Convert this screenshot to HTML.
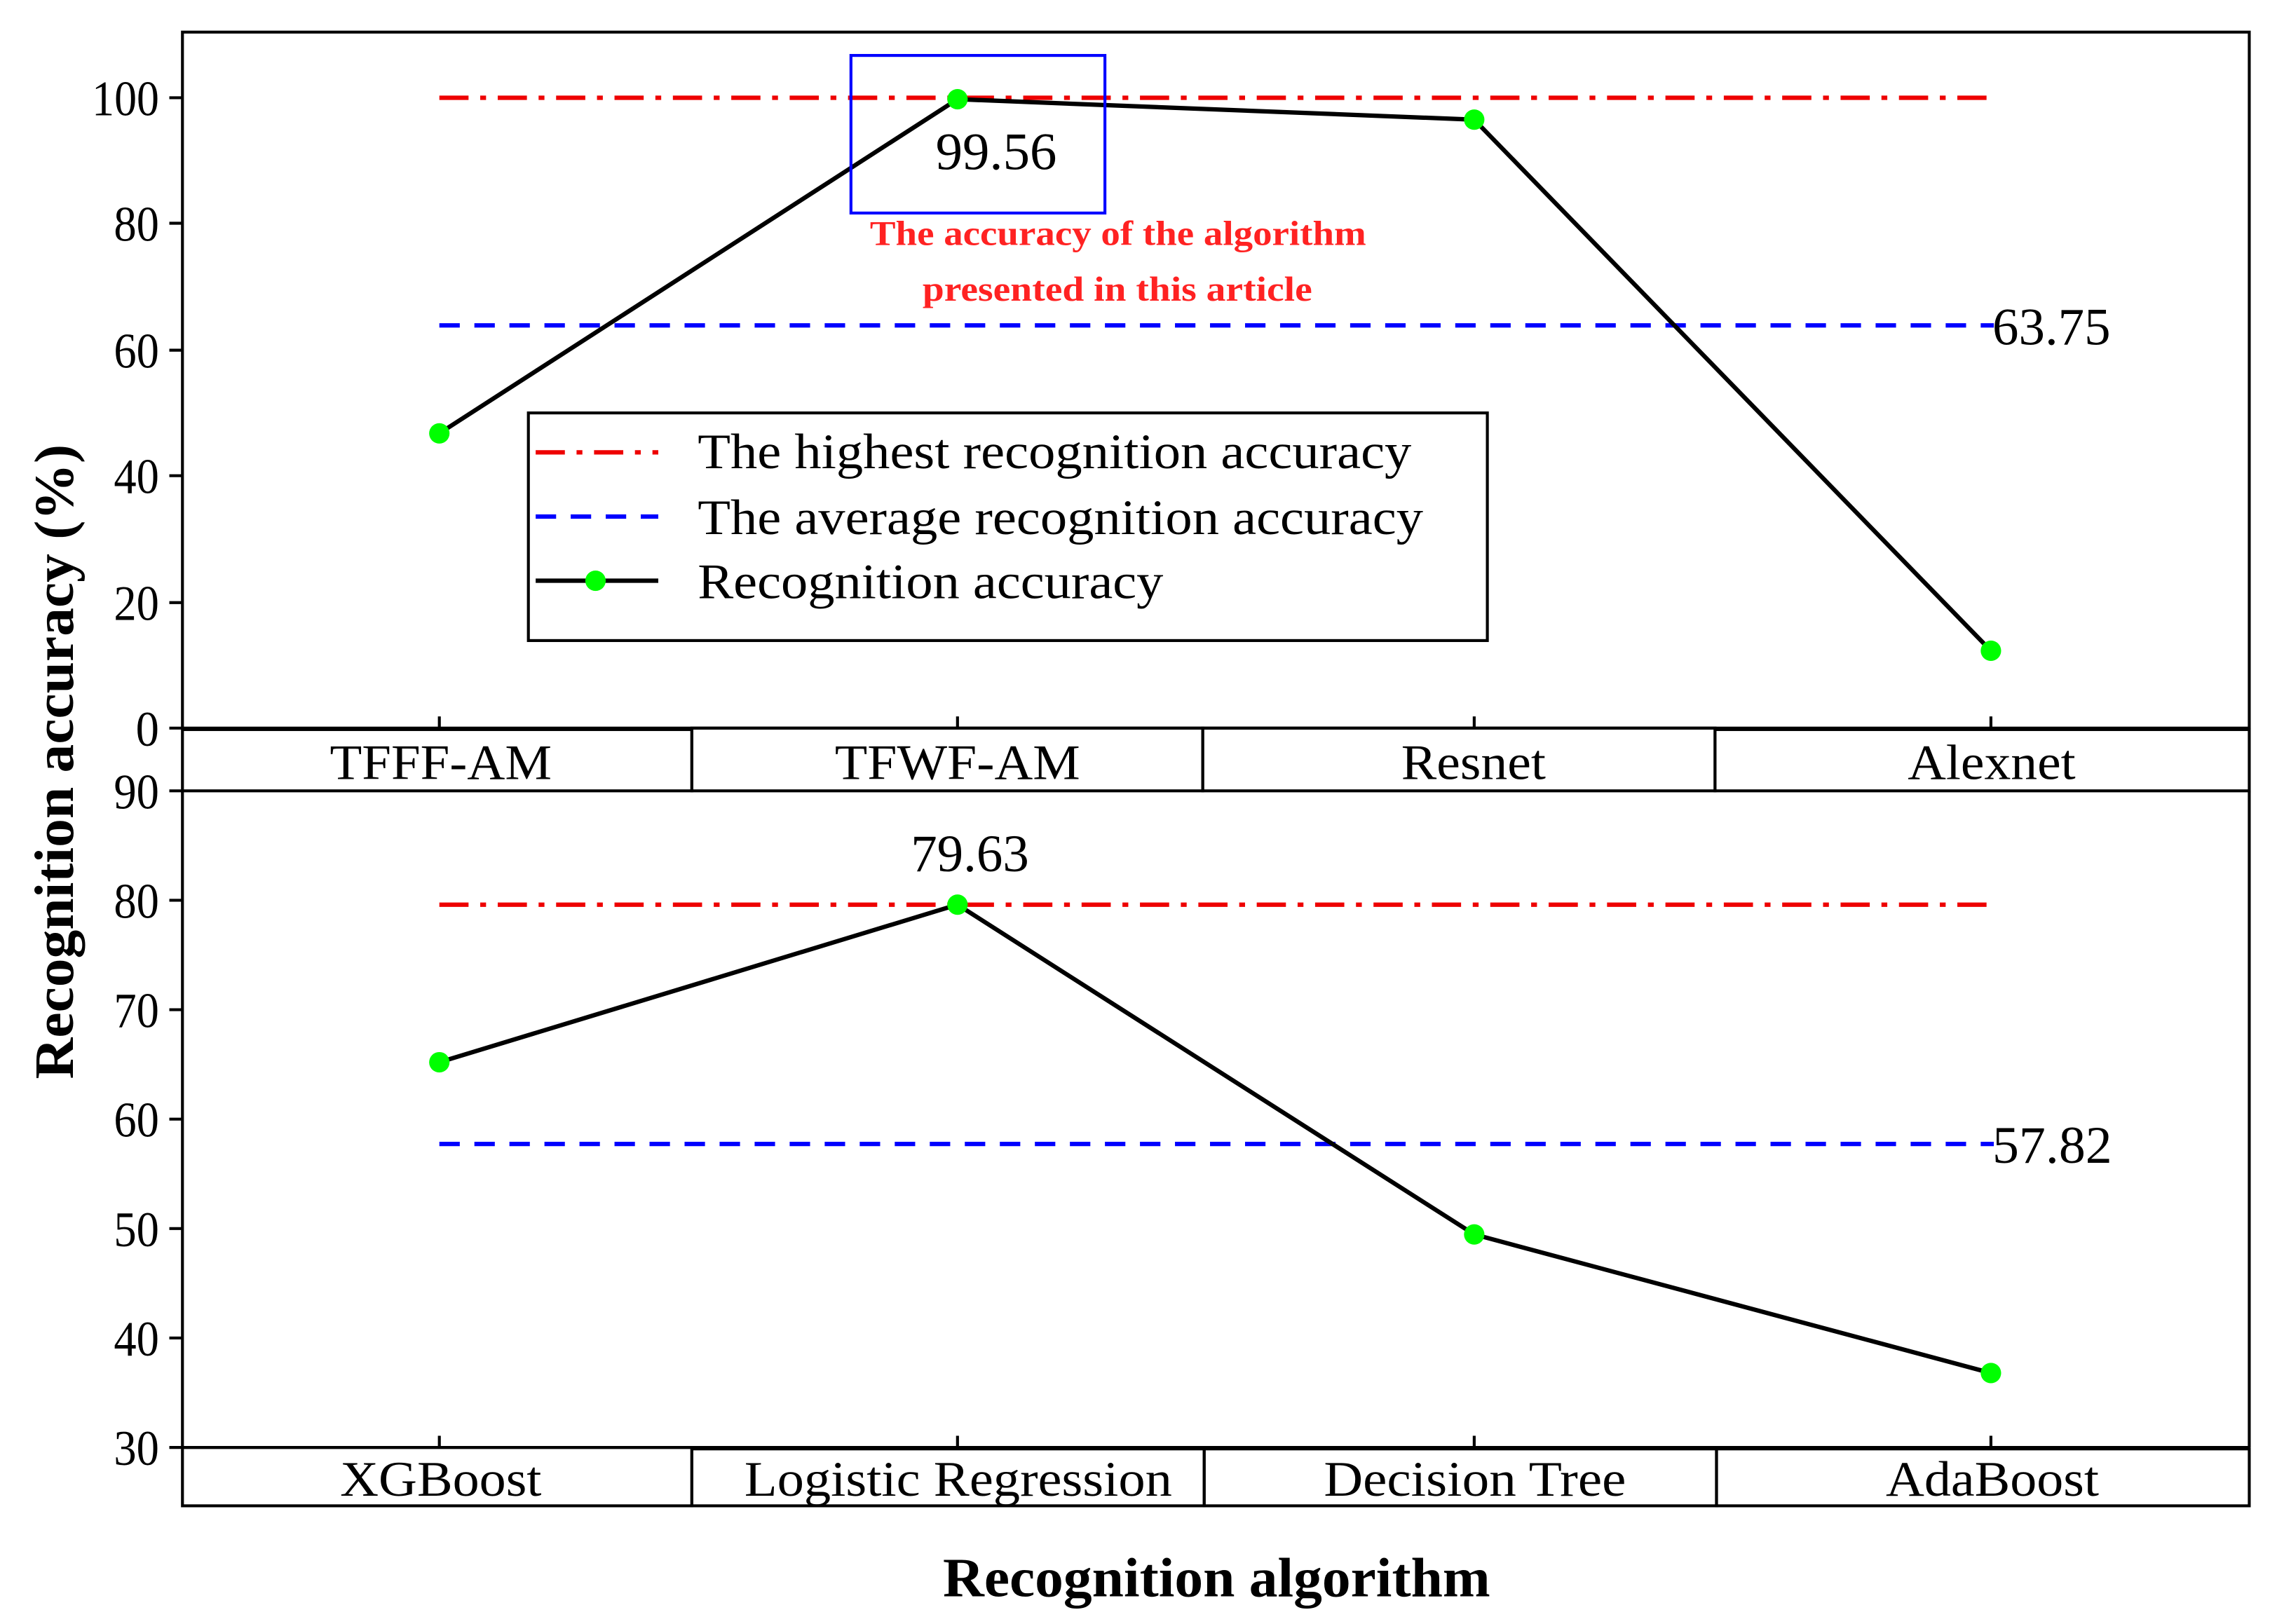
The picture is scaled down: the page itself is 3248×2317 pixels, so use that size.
<!DOCTYPE html>
<html><head><meta charset="utf-8"><style>html,body{margin:0;padding:0;background:#fff}svg{display:block}</style></head>
<body>
<svg width="3248" height="2317" viewBox="0 0 1560 1113" preserveAspectRatio="none" xmlns="http://www.w3.org/2000/svg" font-family="'Liberation Serif', serif">
<rect width="1560" height="1113" fill="#fff"/>
<rect x="125" y="22" width="1416" height="477" fill="none" stroke="#000" stroke-width="2"/>
<g stroke="#000" stroke-width="2">
<line x1="116" y1="67" x2="125" y2="67"/><line x1="116" y1="153" x2="125" y2="153"/><line x1="116" y1="240" x2="125" y2="240"/><line x1="116" y1="326" x2="125" y2="326"/><line x1="116" y1="413" x2="125" y2="413"/><line x1="116" y1="499" x2="125" y2="499"/>
<line x1="301" y1="491" x2="301" y2="499"/><line x1="656" y1="491" x2="656" y2="499"/><line x1="1010" y1="491" x2="1010" y2="499"/><line x1="1364" y1="491" x2="1364" y2="499"/>
</g>
<g font-size="34" text-anchor="end" lengthAdjust="spacingAndGlyphs">
<text x="109" y="79" textLength="46" lengthAdjust="spacingAndGlyphs">100</text><text x="109" y="165" textLength="31" lengthAdjust="spacingAndGlyphs">80</text><text x="109" y="252" textLength="31" lengthAdjust="spacingAndGlyphs">60</text><text x="109" y="338" textLength="31" lengthAdjust="spacingAndGlyphs">40</text><text x="109" y="425" textLength="31" lengthAdjust="spacingAndGlyphs">20</text><text x="109" y="511" textLength="16" lengthAdjust="spacingAndGlyphs">0</text>
</g>
<g fill="none" stroke="#000" stroke-width="2">
<rect x="125" y="500" width="349" height="42"/><rect x="474" y="499" width="350" height="43"/><rect x="824" y="499" width="351" height="43"/><rect x="1175" y="500" width="366" height="42"/>
</g>
<g font-size="34">
<text x="226" y="534" textLength="152" lengthAdjust="spacingAndGlyphs">TFFF-AM</text>
<text x="572" y="534" textLength="168" lengthAdjust="spacingAndGlyphs">TFWF-AM</text>
<text x="960" y="534" textLength="99" lengthAdjust="spacingAndGlyphs">Resnet</text>
<text x="1307" y="534" textLength="115" lengthAdjust="spacingAndGlyphs">Alexnet</text>
</g>
<line x1="301" y1="67" x2="1366" y2="67" stroke="#e00" stroke-width="3" stroke-dasharray="20 8 4 8"/>
<line x1="301" y1="223" x2="1366" y2="223" stroke="#00f" stroke-width="3" stroke-dasharray="14 10"/>
<polyline points="301,297 656,68 1010,82 1364,446" fill="none" stroke="#000" stroke-width="3"/>
<g fill="#0f0"><circle cx="301" cy="297" r="7"/><circle cx="656" cy="68" r="7"/><circle cx="1010" cy="82" r="7"/><circle cx="1364" cy="446" r="7"/></g>
<rect x="583" y="38" width="174" height="108" fill="none" stroke="#00f" stroke-width="2"/>
<text x="641" y="116" font-size="36" textLength="83" lengthAdjust="spacingAndGlyphs">99.56</text>
<g fill="#f22" font-weight="bold" font-size="24">
<text x="596" y="168" textLength="340" lengthAdjust="spacingAndGlyphs">The accuracy of the algorithm</text>
<text x="632" y="206" textLength="267" lengthAdjust="spacingAndGlyphs">presented in this article</text>
</g>
<text x="1365" y="236" font-size="36" textLength="81" lengthAdjust="spacingAndGlyphs">63.75</text>
<rect x="362" y="283" width="657" height="156" fill="#fff" stroke="#000" stroke-width="2"/>
<line x1="367" y1="310" x2="451" y2="310" stroke="#e00" stroke-width="3" stroke-dasharray="20 8 4 8"/>
<line x1="367" y1="354" x2="451" y2="354" stroke="#00f" stroke-width="3" stroke-dasharray="14 10"/>
<line x1="367" y1="398" x2="451" y2="398" stroke="#000" stroke-width="3"/>
<circle cx="408" cy="398" r="7" fill="#0f0"/>
<g font-size="34">
<text x="478" y="321" textLength="489" lengthAdjust="spacingAndGlyphs">The highest recognition accuracy</text>
<text x="478" y="366" textLength="497" lengthAdjust="spacingAndGlyphs">The average recognition accuracy</text>
<text x="478" y="410" textLength="319" lengthAdjust="spacingAndGlyphs">Recognition accuracy</text>
</g>
<line x1="125" y1="542" x2="125" y2="992" stroke="#000" stroke-width="2"/>
<line x1="1541" y1="542" x2="1541" y2="992" stroke="#000" stroke-width="2"/>
<line x1="125" y1="992" x2="1541" y2="992" stroke="#000" stroke-width="2"/>
<g stroke="#000" stroke-width="2">
<line x1="116" y1="542" x2="125" y2="542"/><line x1="116" y1="617" x2="125" y2="617"/><line x1="116" y1="692" x2="125" y2="692"/><line x1="116" y1="767" x2="125" y2="767"/><line x1="116" y1="842" x2="125" y2="842"/><line x1="116" y1="917" x2="125" y2="917"/><line x1="116" y1="992" x2="125" y2="992"/>
<line x1="301" y1="984" x2="301" y2="992"/><line x1="656" y1="984" x2="656" y2="992"/><line x1="1010" y1="984" x2="1010" y2="992"/><line x1="1364" y1="984" x2="1364" y2="992"/>
</g>
<g font-size="34" text-anchor="end">
<text x="109" y="554" textLength="31" lengthAdjust="spacingAndGlyphs">90</text><text x="109" y="629" textLength="31" lengthAdjust="spacingAndGlyphs">80</text><text x="109" y="704" textLength="31" lengthAdjust="spacingAndGlyphs">70</text><text x="109" y="779" textLength="31" lengthAdjust="spacingAndGlyphs">60</text><text x="109" y="854" textLength="31" lengthAdjust="spacingAndGlyphs">50</text><text x="109" y="929" textLength="31" lengthAdjust="spacingAndGlyphs">40</text><text x="109" y="1004" textLength="31" lengthAdjust="spacingAndGlyphs">30</text>
</g>
<g fill="none" stroke="#000" stroke-width="2">
<rect x="125" y="992" width="349" height="40"/><rect x="474" y="993" width="351" height="39"/><rect x="825" y="993" width="351" height="39"/><rect x="1176" y="993" width="365" height="39"/>
</g>
<g font-size="34">
<text x="233" y="1025" textLength="138" lengthAdjust="spacingAndGlyphs">XGBoost</text>
<text x="510" y="1025" textLength="293" lengthAdjust="spacingAndGlyphs">Logistic Regression</text>
<text x="907" y="1025" textLength="207" lengthAdjust="spacingAndGlyphs">Decision Tree</text>
<text x="1292" y="1025" textLength="146" lengthAdjust="spacingAndGlyphs">AdaBoost</text>
</g>
<line x1="301" y1="620" x2="1366" y2="620" stroke="#e00" stroke-width="3" stroke-dasharray="20 8 4 8"/>
<line x1="301" y1="784" x2="1366" y2="784" stroke="#00f" stroke-width="3" stroke-dasharray="14 10"/>
<polyline points="301,728 656,620 1010,846 1364,941" fill="none" stroke="#000" stroke-width="3"/>
<g fill="#0f0"><circle cx="301" cy="728" r="7"/><circle cx="656" cy="620" r="7"/><circle cx="1010" cy="846" r="7"/><circle cx="1364" cy="941" r="7"/></g>
<text x="624" y="597" font-size="36" textLength="81" lengthAdjust="spacingAndGlyphs">79.63</text>
<text x="1365" y="797" font-size="36" textLength="82" lengthAdjust="spacingAndGlyphs">57.82</text>
<text transform="translate(50,522) rotate(-90)" font-size="38" font-weight="bold" text-anchor="middle" textLength="435" lengthAdjust="spacingAndGlyphs">Recognition accuracy (%)</text>
<text x="646" y="1094" font-size="38" font-weight="bold" textLength="375" lengthAdjust="spacingAndGlyphs">Recognition algorithm</text>
</svg>
</body></html>
